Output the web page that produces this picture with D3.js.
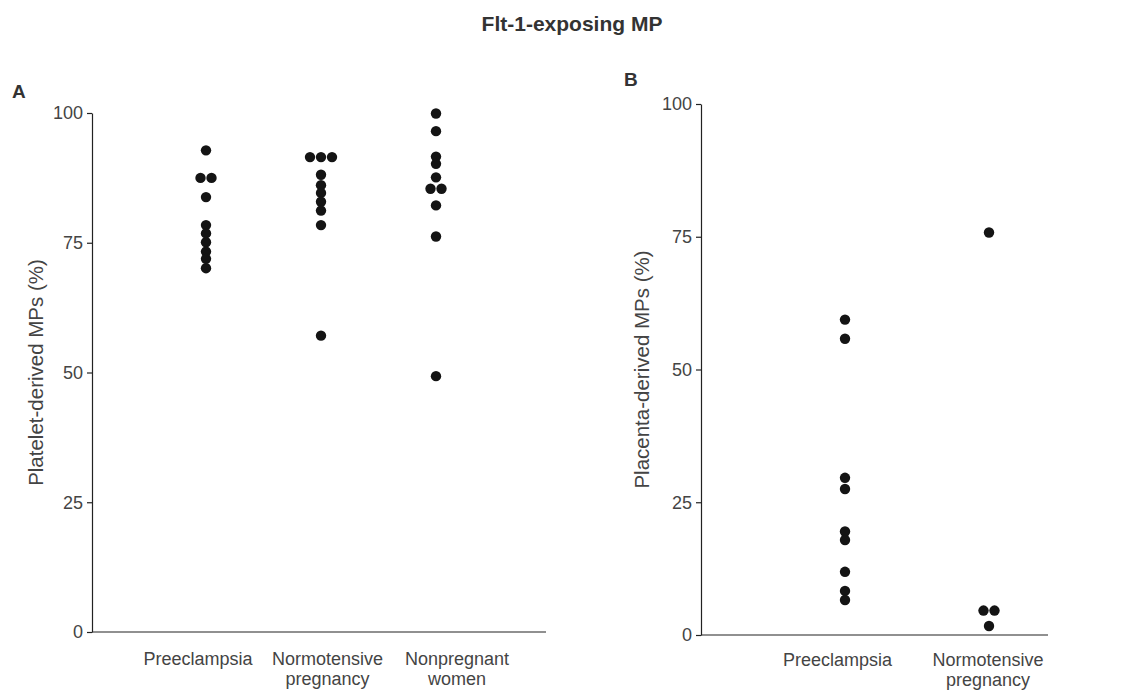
<!DOCTYPE html>
<html>
<head>
<meta charset="utf-8">
<script src="https://cdn.jsdelivr.net/npm/d3@7"></script>
<style>
  html, body { margin: 0; padding: 0; background: #fff; }
  svg { display: block; font-family: "Liberation Sans", Arial, Helvetica, sans-serif; }
</style>
</head>
<body>
<svg id="chart" width="1121" height="690"></svg>
<script>
// ---------- DATA ----------
const title = "Flt-1-exposing MP";
const catsA = ["Preeclampsia", "Normotensive pregnancy", "Nonpregnant women"];
const preeclampsiaA = [92.8, 87.5, 87.5, 83.8, 78.4, 76.8, 75.1, 73.3, 71.9, 70.1];
const normotensiveA = [91.5, 91.5, 91.5, 88.1, 86.1, 84.6, 82.9, 81.2, 78.4, 57.1];
const nonpregnantA  = [99.9, 96.5, 91.6, 90.2, 87.6, 85.4, 85.4, 82.2, 76.2, 49.3];
const catsB = ["Preeclampsia", "Normotensive pregnancy"];
const preeclampsiaB = [59.4, 55.8, 29.6, 27.5, 19.5, 17.9, 11.9, 8.3, 6.6];
const normotensiveB = [75.8, 4.6, 4.6, 1.7];
const yTicks = [0, 25, 50, 75, 100];
const yLabelA = "Platelet-derived MPs (%)";
const yLabelB = "Placenta-derived MPs (%)";

// ---------- DRAW ----------
const svg = d3.select("#chart");
const dotColor = "#141414";
const textColor = "#444";
const axisColor = "#222";

svg.append("text")
  .attr("x", 572).attr("y", 31)
  .attr("text-anchor", "middle")
  .attr("font-size", 21).attr("font-weight", "bold")
  .attr("fill", "#333")
  .text(title);

function panel(cfg) {
  const g = svg.append("g");
  const y = d3.scaleLinear().domain([0, 100]).range([cfg.y0, cfg.y100]);
  const xDot = d3.scalePoint().domain(cfg.cats).range(cfg.dotRange);
  const xLab = d3.scalePoint().domain(cfg.cats).range(cfg.labRange);

  // panel letter
  g.append("text").attr("x", cfg.letterX).attr("y", cfg.letterY)
    .attr("font-size", 19).attr("font-weight", "bold").attr("fill", "#333")
    .text(cfg.letter);

  // y axis
  const ax = g.append("g")
    .attr("transform", `translate(${cfg.axisX},0)`)
    .call(d3.axisLeft(y).tickValues(yTicks).tickSize(5).tickSizeOuter(0).tickPadding(4));
  ax.select(".domain").attr("stroke", axisColor).attr("stroke-width", 1.2);
  ax.selectAll(".tick line").attr("stroke", axisColor).attr("stroke-width", 1.2);
  ax.selectAll(".tick text")
    .attr("font-size", 18).attr("fill", textColor)
    .attr("font-family", "Liberation Sans, Arial, sans-serif");

  // x axis baseline
  g.append("line")
    .attr("x1", cfg.axisX).attr("x2", cfg.xEnd)
    .attr("y1", y(0)).attr("y2", y(0))
    .attr("stroke", axisColor).attr("stroke-width", 1.2);

  // category labels
  cfg.cats.forEach(c => {
    const t = g.append("text")
      .attr("text-anchor", "middle")
      .attr("font-size", 18).attr("fill", textColor);
    c.split(" ").forEach((w, i) => {
      t.append("tspan").attr("x", xLab(c)).attr("y", cfg.labY + i * 20).text(w);
    });
  });

  // y axis label
  g.append("text")
    .attr("transform", `translate(${cfg.titleX},${(cfg.y0 + cfg.y100) / 2}) rotate(-90)`)
    .attr("text-anchor", "middle")
    .attr("font-size", 20.5).attr("fill", textColor)
    .text(cfg.yLabel);

  // dots (tied values spread horizontally)
  const spacing = 11;
  cfg.series.forEach((vals, si) => {
    const cat = cfg.cats[si];
    const counts = d3.rollup(vals, v => v.length, d => d);
    const seen = new Map();
    const pts = vals.map(v => {
      const n = counts.get(v);
      const k = seen.get(v) || 0;
      seen.set(v, k + 1);
      return { v, dx: (k - (n - 1) / 2) * spacing, cat };
    });
    g.selectAll(null).data(pts).enter().append("circle")
      .attr("cx", d => xDot(d.cat) + d.dx)
      .attr("cy", d => y(d.v))
      .attr("r", 5.2)
      .attr("fill", dotColor);
  });
}

panel({
  letter: "A", letterX: 12, letterY: 98,
  cats: catsA, series: [preeclampsiaA, normotensiveA, nonpregnantA],
  y0: 632, y100: 113, axisX: 92, xEnd: 546,
  dotRange: [206, 436], labRange: [198, 457], labY: 665,
  yLabel: yLabelA, titleX: 43
});

panel({
  letter: "B", letterX: 624, letterY: 86,
  cats: catsB, series: [preeclampsiaB, normotensiveB],
  y0: 635, y100: 104, axisX: 701, xEnd: 1048,
  dotRange: [845, 989], labRange: [837.5, 988], labY: 666,
  yLabel: yLabelB, titleX: 649
});
</script>
</body>
</html>
